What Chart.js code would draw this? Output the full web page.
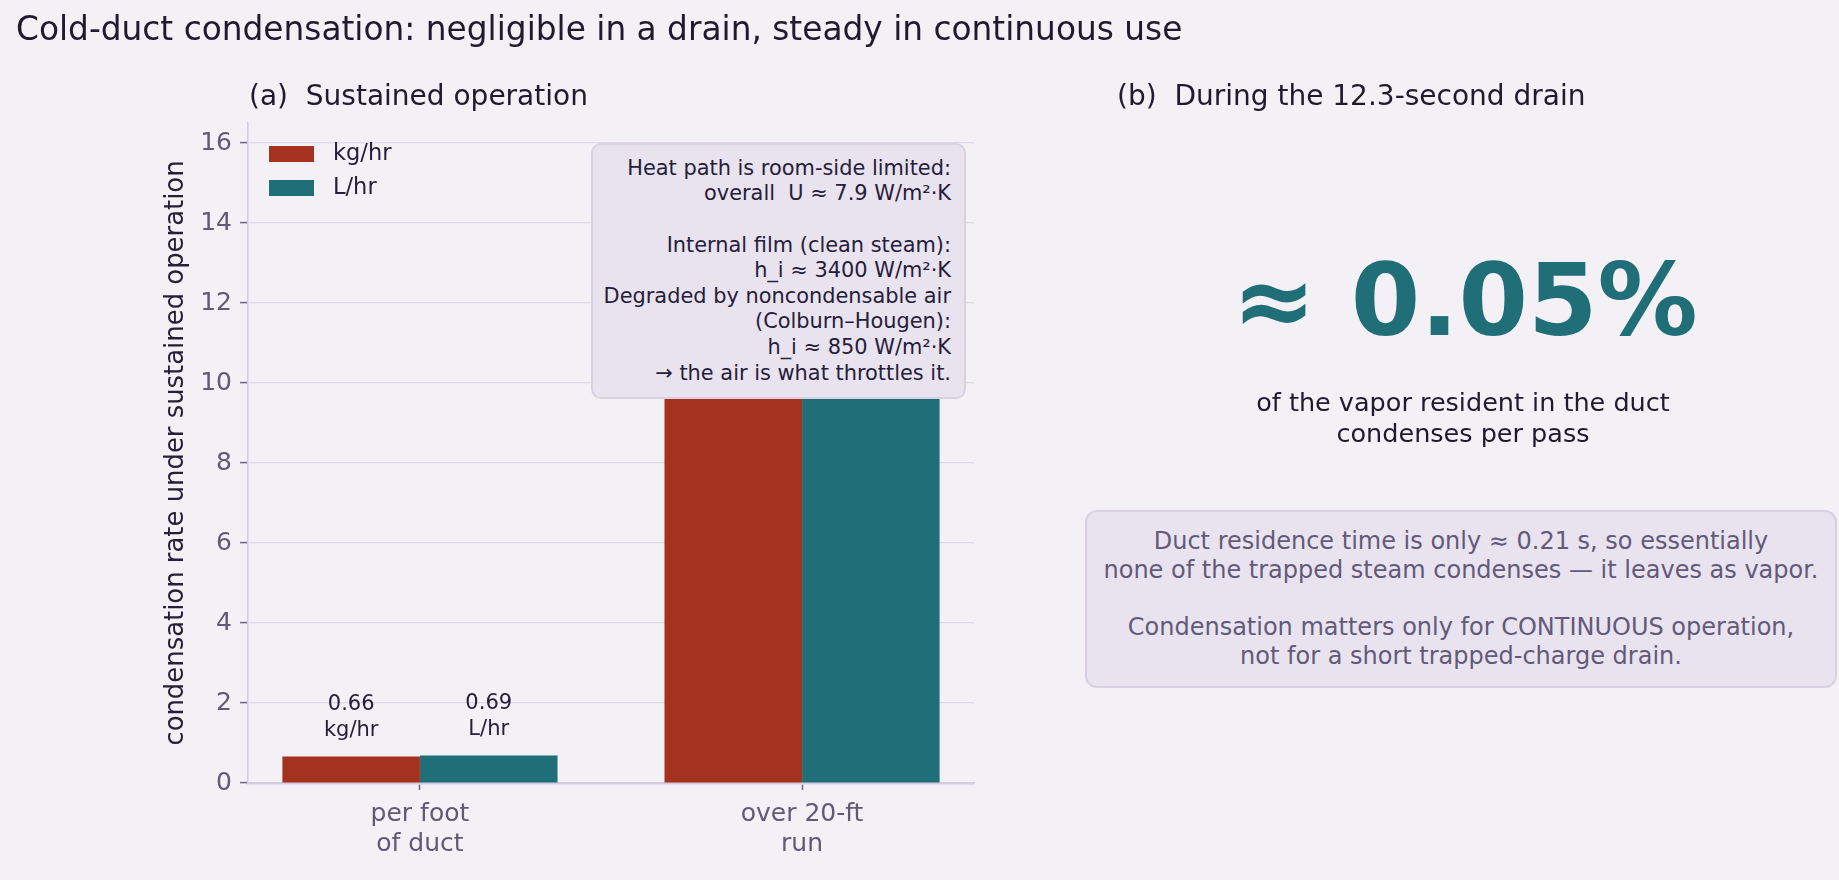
<!DOCTYPE html>
<html>
<head>
<meta charset="utf-8">
<script src="https://cdn.jsdelivr.net/npm/chart.js@4.4.1/dist/chart.umd.min.js"></script>
<style>
  html, body { margin: 0; padding: 0; background: #f3f0f6; }
  body { width: 1839px; height: 880px; position: relative; overflow: hidden; font-family: "DejaVu Sans", sans-serif; }
  #chart-wrap { position: absolute; left: 0; top: 0; width: 1839px; height: 880px; }
  .txt { position: absolute; white-space: pre; }
  #main-title { left: 16px; top: 29px; transform: translateY(-50%); font-size: 32.8px; color: #1f1b2e; }
  .panel-title { top: 95px; transform: translateY(-50%); font-size: 28px; color: #1f1b2e; }
  #title-a { left: 249px; }
  #title-b { left: 1117px; }
  #note-a {
    position: absolute; left: 591px; top: 143px; width: 375px; height: 256px; box-sizing: border-box;
    background: #e9e3ef; border: 2px solid #d9d1e2; border-radius: 10px;
    display: flex; align-items: center; justify-content: flex-end; padding-right: 13px;
    font-size: 20.9px; line-height: 25.6px; color: #25203a; text-align: right; white-space: pre;
  }
  #big-number { left: 1465px; top: 300px; transform: translate(-50%, -50%); font-size: 100px; font-weight: bold; color: #1f6e78; }
  #big-caption { left: 1463px; top: 418px; transform: translate(-50%, -50%); font-size: 25.5px; line-height: 31px; color: #1f1b2e; text-align: center; }
  #note-b {
    position: absolute; left: 1085px; top: 510px; width: 752px; height: 178px; box-sizing: border-box;
    background: #e9e3ef; border: 2px solid #d9d1e2; border-radius: 12px;
    display: flex; align-items: center; justify-content: center;
    font-size: 24px; line-height: 28.7px; color: #625a7a; text-align: center; white-space: pre;
  }
</style>
</head>
<body>
<div id="chart-wrap"><canvas id="rate-chart" width="1839" height="880"></canvas></div>
<div class="txt" id="main-title">Cold-duct condensation: negligible in a drain, steady in continuous use</div>
<div class="txt panel-title" id="title-a">(a)  Sustained operation</div>
<div class="txt panel-title" id="title-b">(b)  During the 12.3-second drain</div>
<div id="note-a">Heat path is room-side limited:
overall  U ≈ 7.9 W/m²·K

Internal film (clean steam):
h_i ≈ 3400 W/m²·K
Degraded by noncondensable air
(Colburn–Hougen):
h_i ≈ 850 W/m²·K
→ the air is what throttles it.</div>
<div class="txt" id="big-number">≈ 0.05%</div>
<div class="txt" id="big-caption">of the vapor resident in the duct
condenses per pass</div>
<div id="note-b">Duct residence time is only ≈ 0.21 s, so essentially
none of the trapped steam condenses — it leaves as vapor.

Condensation matters only for CONTINUOUS operation,
not for a short trapped-charge drain.</div>

<script>
// Chart data
const categories = [['per foot', 'of duct'], ['over 20-ft', 'run']];
const seriesNames = ['kg/hr', 'L/hr'];
const kgPerHr = [0.66, 13.2];
const litresPerHr = [0.69, 13.8];
const yTicks = [0, 2, 4, 6, 8, 10, 12, 14, 16];

const RED = '#a5321e';
const TEAL = '#1f6e78';
const TICK_TEXT = '#5f5a75';
const DARK = '#25203a';
const FONT = '"DejaVu Sans", sans-serif';

// Legend drawn inside the plot area, top-left (like matplotlib)
const insideLegend = {
  id: 'insideLegend',
  afterDraw(chart) {
    const ctx = chart.ctx;
    const area = chart.chartArea;
    const colors = [RED, TEAL];
    ctx.save();
    ctx.font = `22.5px ${FONT}`;
    ctx.textBaseline = 'middle';
    ctx.textAlign = 'left';
    seriesNames.forEach((name, i) => {
      const y = area.top + 31 + i * 34;
      ctx.fillStyle = colors[i];
      ctx.fillRect(area.left + 21, y - 8, 45, 16);
      ctx.fillStyle = DARK;
      ctx.fillText(name, area.left + 85, y);
    });
    ctx.restore();
  }
};

// Value labels above the per-foot bars only
const perFootLabels = {
  id: 'perFootLabels',
  afterDatasetsDraw(chart) {
    const ctx = chart.ctx;
    ctx.save();
    ctx.font = `21px ${FONT}`;
    ctx.fillStyle = DARK;
    ctx.textAlign = 'center';
    ctx.textBaseline = 'middle';
    chart.data.datasets.forEach((ds, i) => {
      const bar = chart.getDatasetMeta(i).data[0];
      const value = ds.data[0].y;
      ctx.fillText(value.toFixed(2), bar.x, bar.y - 52);
      ctx.fillText(seriesNames[i], bar.x, bar.y - 26);
    });
    ctx.restore();
  }
};

const ctx = document.getElementById('rate-chart').getContext('2d');
new Chart(ctx, {
  type: 'bar',
  data: {
    datasets: [
      {
        label: seriesNames[0],
        data: kgPerHr.map((v, i) => ({ x: i, y: v })),
        backgroundColor: RED
      },
      {
        label: seriesNames[1],
        data: litresPerHr.map((v, i) => ({ x: i, y: v })),
        backgroundColor: TEAL
      }
    ]
  },
  options: {
    responsive: false,
    animation: false,
    barPercentage: 1,
    categoryPercentage: 0.72,
    layout: { padding: { left: 157, top: 123, right: 865, bottom: 0 } },
    plugins: {
      legend: { display: false },
      tooltip: { enabled: false }
    },
    scales: {
      x: {
        type: 'linear',
        min: -0.45,
        max: 1.45,
        offset: false,
        afterBuildTicks: scale => { scale.ticks = categories.map((c, i) => ({ value: i })); },
        afterFit: scale => { scale.height = 97; },
        grid: { offset: false, drawOnChartArea: false, drawTicks: true, tickLength: 7, tickColor: '#6b6580', tickWidth: 1.5 },
        border: { color: '#d3cce0', width: 2.5 },
        ticks: {
          color: TICK_TEXT,
          font: { family: FONT, size: 25 },
          padding: 9,
          maxRotation: 0,
          callback: value => categories[value] || ''
        }
      },
      y: {
        min: 0,
        max: 16.5,
        afterBuildTicks: scale => { scale.ticks = yTicks.map(v => ({ value: v })); },
        afterFit: scale => { scale.width = 91; },
        grid: { color: '#ddd7e7', lineWidth: 1.2, tickLength: 8, tickColor: '#6b6580', tickWidth: 1.5 },
        border: { color: '#d3cce0', width: 1.5 },
        ticks: {
          color: TICK_TEXT,
          font: { family: FONT, size: 25 },
          padding: 8
        },
        title: {
          display: true,
          text: 'condensation rate under sustained operation',
          color: DARK,
          font: { family: FONT, size: 25.9 },
          padding: { top: 4, bottom: 4 }
        }
      }
    }
  },
  plugins: [insideLegend, perFootLabels]
});
</script>
</body>
</html>
